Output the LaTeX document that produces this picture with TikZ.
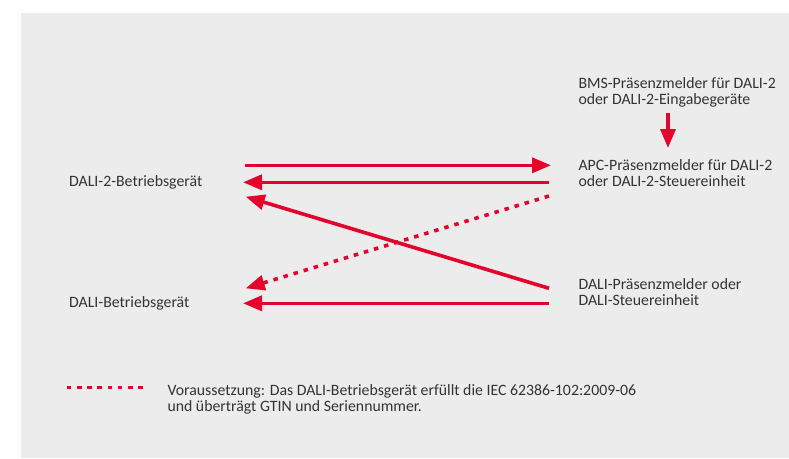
\documentclass[tikz,border=0pt]{standalone}
\usepackage{fontspec}
\setmainfont{Carlito}
\usetikzlibrary{arrows.meta}
\definecolor{dalired}{HTML}{E3032D}
\definecolor{bggray}{HTML}{EBECEB}
\definecolor{txtgray}{HTML}{333333}

\begin{document}
\begin{tikzpicture}[x=1pt, y=-1pt,
  lbl/.style={inner sep=0pt, anchor=base west, align=left, text=txtgray, font=\fontsize{15.8}{16.5}\selectfont},
  redarr/.style={-{Triangle[length=19pt,width=15pt]}, line width=3.6pt, dalired},
  dotarr/.style={redarr, dash pattern=on 4.5pt off 6pt}]
\useasboundingbox (0,0) rectangle (789,458);
\fill[bggray] (21,13) rectangle (789,458);
% Devices
\node[lbl] (dali2) at (69,186) {DALI-2-Betriebsgerät};
\node[lbl] (dali) at (69,307.3) {DALI-Betriebsgerät};
\node[lbl] (bms) at (578.3,104.5) {BMS-Präsenzmelder für DALI-2\\oder DALI-2-Eingabegeräte};
\node[lbl] (apc) at (578.3,186.7) {APC-Präsenzmelder für DALI-2\\oder DALI-2-Steuereinheit};
\node[lbl] (pres) at (578.3,305.7) {DALI-Präsenzmelder oder\\DALI-Steuereinheit};
\node[lbl] (note) at (167.3,411.7) {Voraussetzung: Das DALI-Betriebsgerät erfüllt die IEC 62386-102:2009-06\\und überträgt GTIN und Seriennummer.};
% Arrows
\draw[redarr] ([xshift=89.7pt,yshift=-8.5pt]bms.base west) -- ([xshift=89.7pt,yshift=38.7pt]apc.base west);
\draw[redarr] ([xshift=176pt,yshift=20.7pt]dali2.base west) -- ([xshift=-27.3pt,yshift=21.4pt]apc.base west);
\draw[redarr] ([xshift=-29.3pt,yshift=4.4pt]apc.base west) -- ([xshift=174pt,yshift=3.7pt]dali2.base west);
\draw[redarr] ([xshift=-29.3pt,yshift=17.4pt]pres.base west) -- ([xshift=176.7pt,yshift=-10.7pt]dali2.base west);
\draw[dotarr] ([xshift=-29.3pt,yshift=-9.3pt]apc.base west) -- ([xshift=176.7pt,yshift=19pt]dali.base west);
\draw[redarr] ([xshift=-29.3pt,yshift=2.4pt]pres.base west) -- ([xshift=174pt,yshift=4pt]dali.base west);
% Legend
\draw[dalired, line width=3pt, dash pattern=on 4.7pt off 5.5pt] ([xshift=-100.6pt,yshift=24.4pt]note.base west) -- ([xshift=-24.6pt,yshift=24.4pt]note.base west);
\end{tikzpicture}
\end{document}
